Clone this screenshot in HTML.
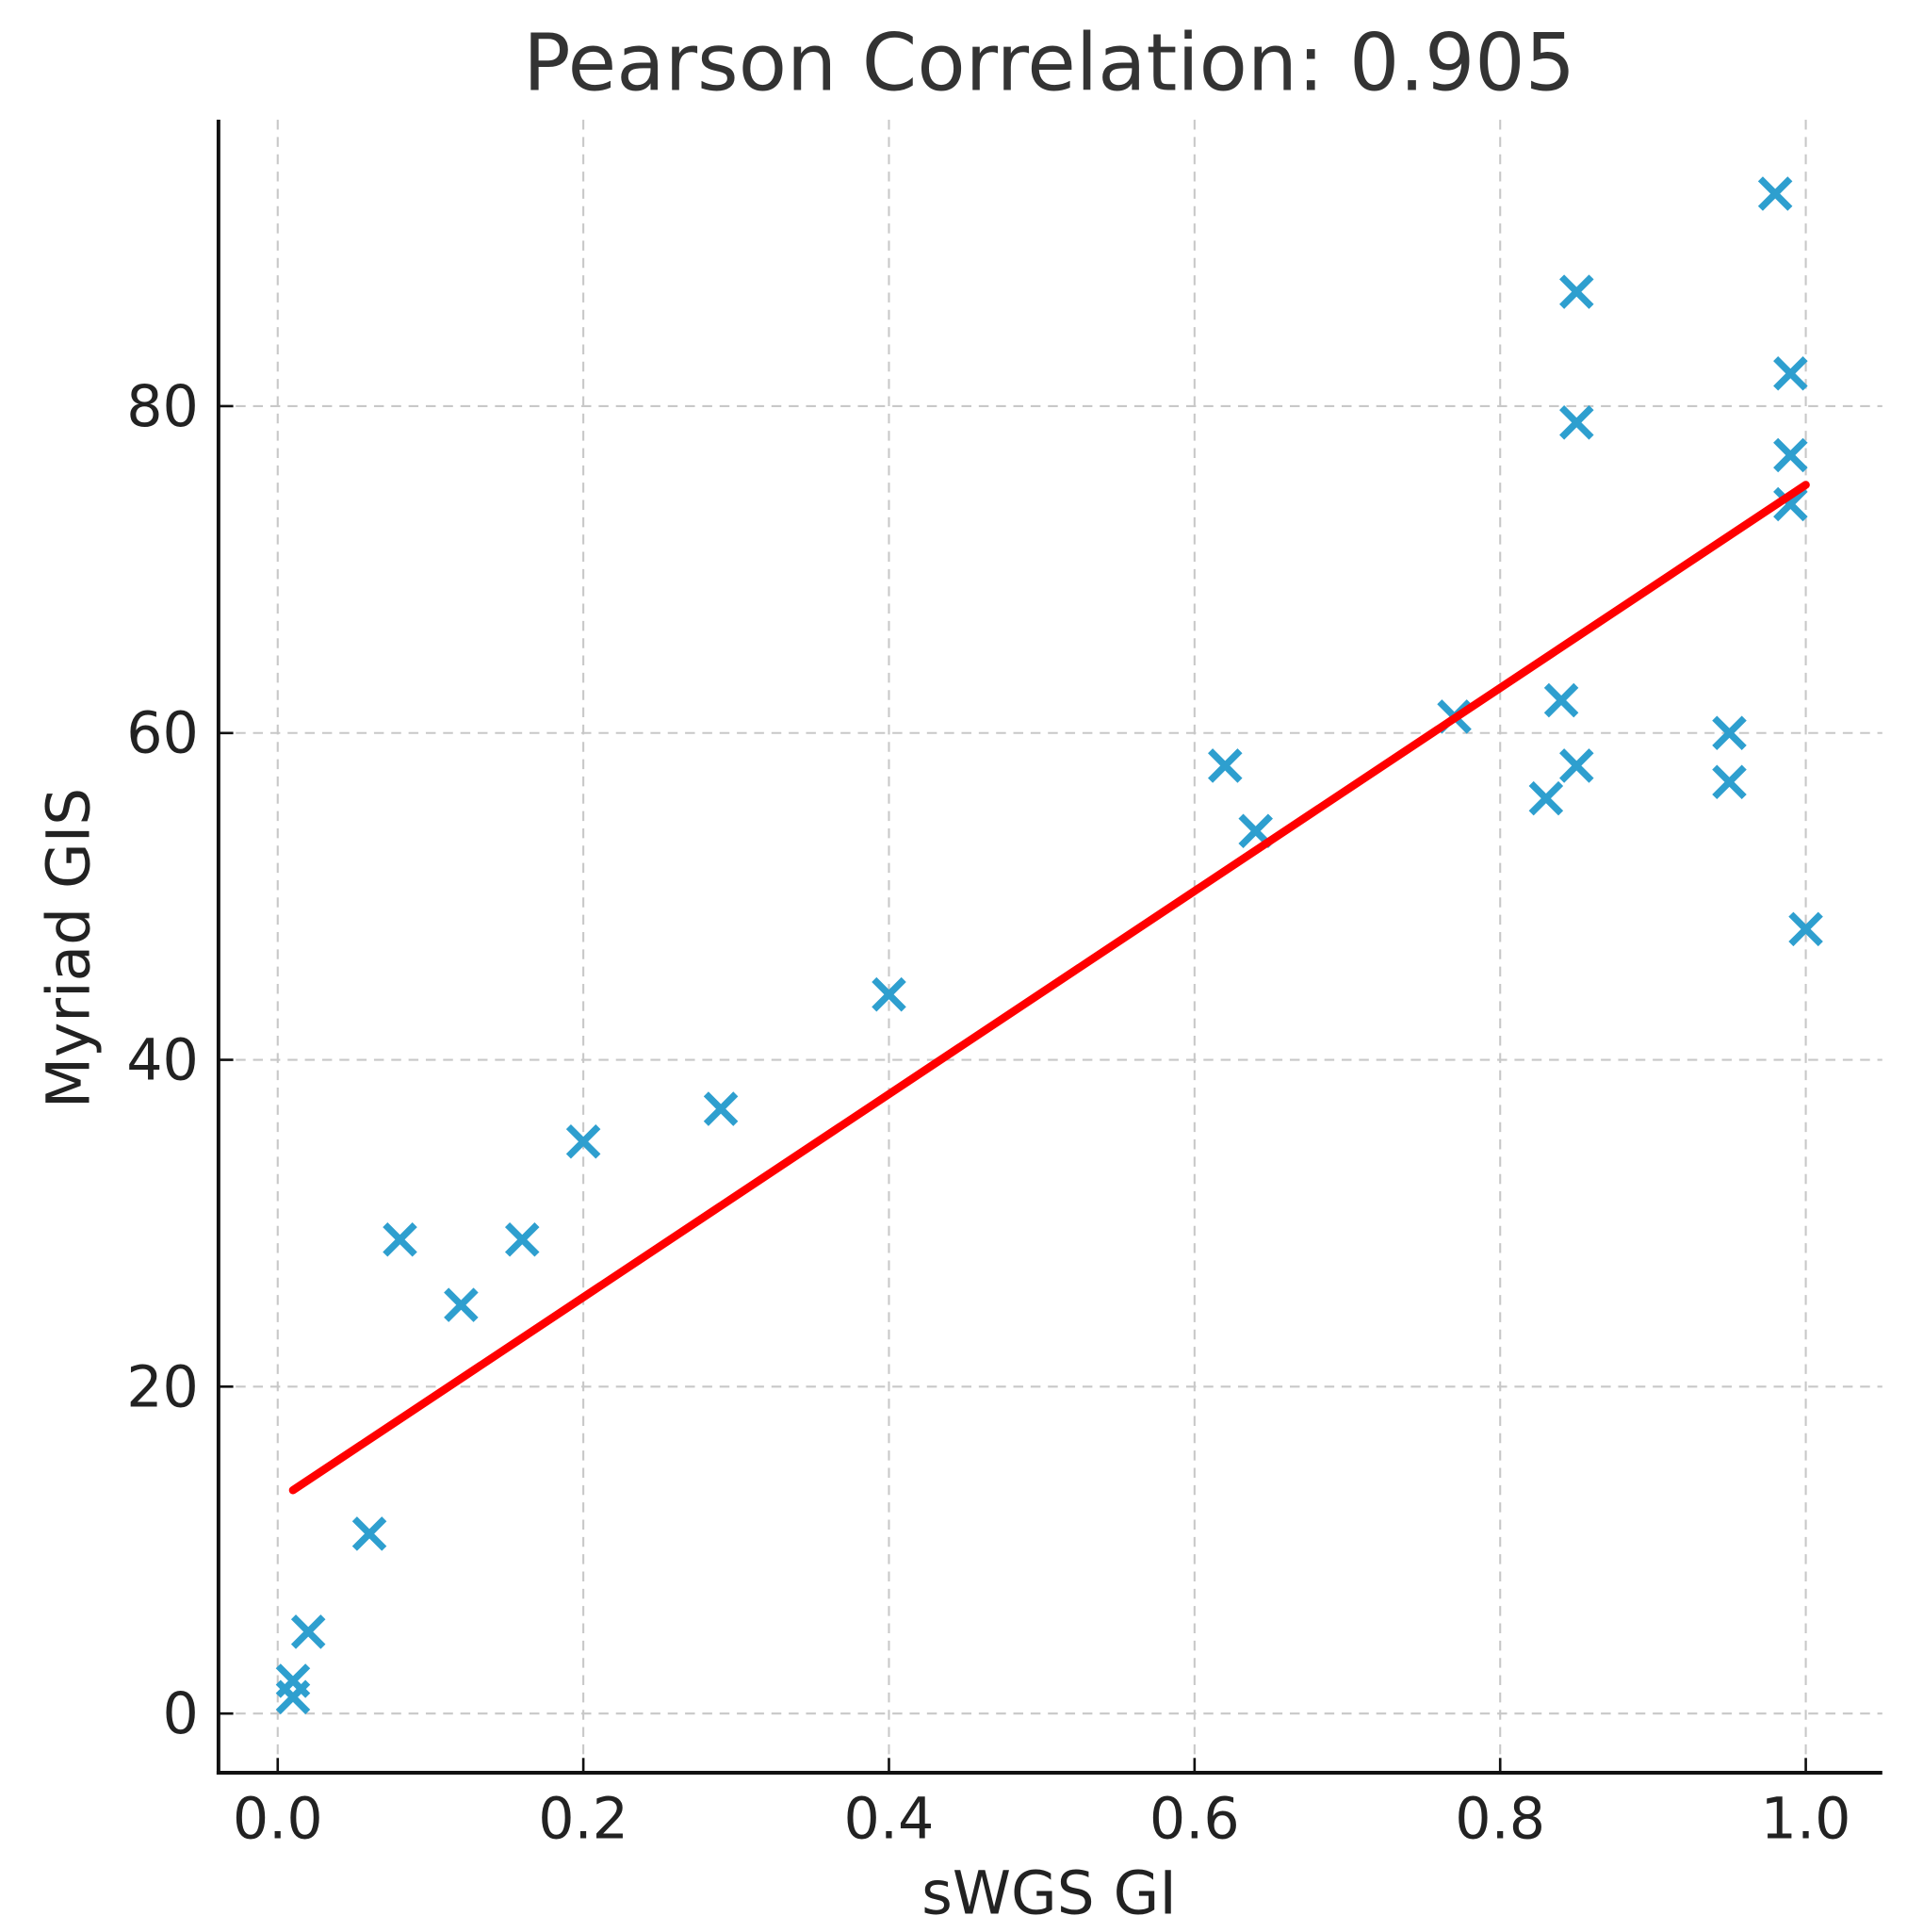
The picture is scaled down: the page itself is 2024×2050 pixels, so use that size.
<!DOCTYPE html>
<html><head><meta charset="utf-8"><style>
html,body{margin:0;padding:0;background:#fff;}
svg{display:block;}
text{font-family:"DejaVu Sans","Liberation Sans",sans-serif;fill:#222;}
</style></head><body>
<svg id="chart" width="2024" height="2050" viewBox="0 0 1545 1565" preserveAspectRatio="none" xmlns="http://www.w3.org/2000/svg">
<text x="850" y="73" font-size="64" text-anchor="middle" style="fill:#333">Pearson Correlation: 0.905</text>
<g id="grid"></g>
<g id="points"></g>
<g id="fit"></g>
<g id="axes"></g>
<text x="850" y="1550" font-size="48" text-anchor="middle">sWGS GI</text>
<text x="0" y="0" font-size="48" text-anchor="middle" transform="translate(72,768) rotate(-90)">Myriad GIS</text>
</svg>
<script>
const xValues = [0.98,0.85,0.99,0.85,0.99,0.99,0.77,0.84,0.85,0.83,0.95,0.95,1.0,0.62,0.64,0.40,0.29,0.20,0.08,0.16,0.12,0.06,0.02,0.01,0.01];
const yValues = [93,87,82,79,77,74,61,62,58,56,60,57,48,58,54,44,37,35,29,29,25,11,5,2,1];
const xTicks = [0.0,0.2,0.4,0.6,0.8,1.0];
const xTickLabels = ["0.0","0.2","0.4","0.6","0.8","1.0"];
const yTicks = [0,20,40,60,80];
const yTickLabels = ["0","20","40","60","80"];

const NS="http://www.w3.org/2000/svg";
function X(v){return 225+v*1238;}
function Y(v){return 1388-v*13.2375;}
function mk(tag,attrs,parent){const e=document.createElementNS(NS,tag);for(const k in attrs)e.setAttribute(k,attrs[k]);parent.appendChild(e);return e;}
const grid=document.getElementById('grid'),pts=document.getElementById('points'),fit=document.getElementById('fit'),axes=document.getElementById('axes');
const L=177,R=1525,T=97,B=1436;
xTicks.forEach((t,i)=>{
  const g=mk('line',{x1:X(t),x2:X(t),y1:T,y2:B,stroke:'#c8c8c8','stroke-width':1.6,'stroke-dasharray':'8,6'},grid);
  
  
  const tk=mk('line',{x1:X(t),x2:X(t),y1:B,y2:B-12,stroke:'#111','stroke-width':2},axes);
  
  
  const lb=mk('text',{x:X(t),y:1489,'font-size':46,'text-anchor':'middle'},axes);
  lb.textContent=xTickLabels[i];
  
  
});
yTicks.forEach((t,i)=>{
  const g=mk('line',{x1:L,x2:R,y1:Y(t),y2:Y(t),stroke:'#c8c8c8','stroke-width':1.6,'stroke-dasharray':'8,6'},grid);
  
  
  const tk=mk('line',{x1:L,x2:L+12,y1:Y(t),y2:Y(t),stroke:'#111','stroke-width':2},axes);
  
  
  const lb=mk('text',{x:161,y:Y(t)+16,'font-size':46,'text-anchor':'end'},axes);
  lb.textContent=yTickLabels[i];
  
  
});
const ya=mk('line',{x1:L,x2:L,y1:T,y2:B+1.5,stroke:'#111','stroke-width':3},axes);


const xa=mk('line',{x1:L-1.5,x2:R,y1:B,y2:B,stroke:'#111','stroke-width':3},axes);


const s=12;
xValues.forEach((xv,i)=>{
  const cx=X(xv),cy=Y(yValues[i]);
  const p=mk('path',{d:`M${cx-s},${cy-s}L${cx+s},${cy+s}M${cx-s},${cy+s}L${cx+s},${cy-s}`,stroke:'#2e9fcf','stroke-width':5.5,fill:'none'},pts);
  
  
});
const n=xValues.length;let mx=0,my=0;xValues.forEach((v,i)=>{mx+=v;my+=yValues[i];});mx/=n;my/=n;
let sxy=0,sxx=0;xValues.forEach((v,i)=>{sxy+=(v-mx)*(yValues[i]-my);sxx+=(v-mx)*(v-mx);});
const slope=sxy/sxx,icpt=my-slope*mx;
const x0=Math.min(...xValues),x1=Math.max(...xValues);
const fl=mk('line',{x1:X(x0),y1:Y(icpt+slope*x0),x2:X(x1),y2:Y(icpt+slope*x1),stroke:'#ff0000','stroke-width':6.5,'stroke-linecap':'round'},fit);


</script>
</body></html>
